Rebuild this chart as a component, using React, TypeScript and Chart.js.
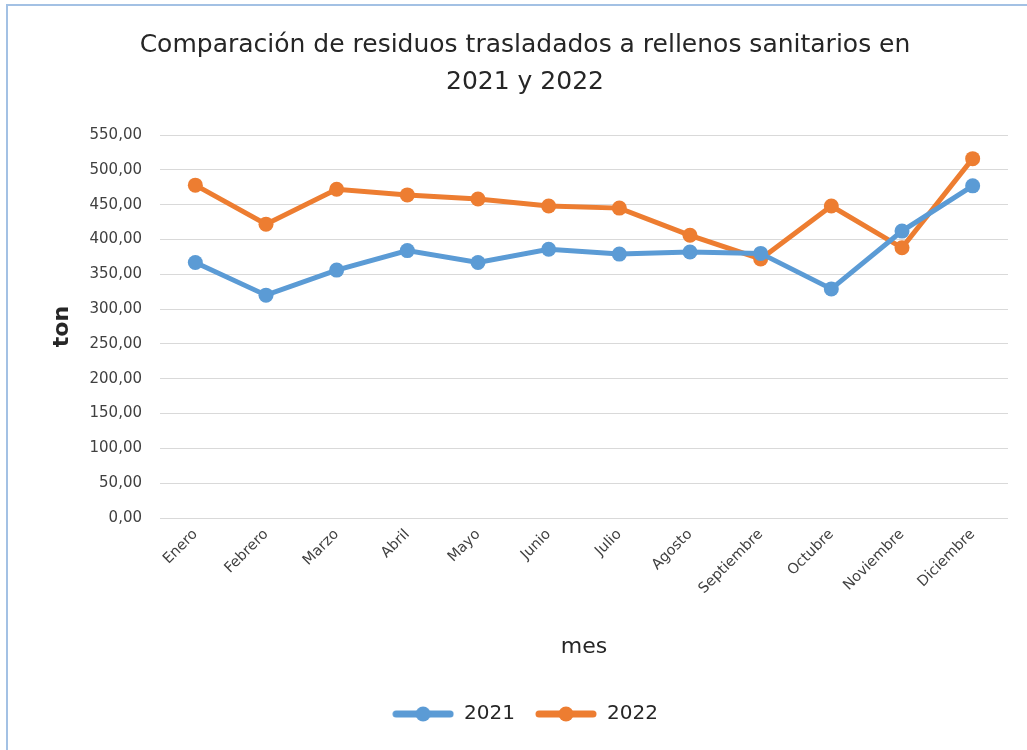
import React, { useEffect, useRef } from "react";
import { Chart, registerables } from "chart.js";

Chart.register(...registerables);

const months = ["Enero", "Febrero", "Marzo", "Abril", "Mayo", "Junio", "Julio", "Agosto", "Septiembre", "Octubre", "Noviembre", "Diciembre"];
const values2021 = [367, 320, 356, 384, 367, 386, 379, 382, 380, 329, 412, 477];
const values2022 = [478, 422, 472, 464, 458, 448, 445, 406, 372, 448, 388, 516];
const seriesNames = ["2021", "2022"];
const seriesColors = ["#5B9BD5", "#ED7D31"];
const titleLines = ["Comparación de residuos trasladados a rellenos sanitarios en", "2021 y 2022"];
const yAxisTitle = "ton";
const xAxisTitle = "mes";

const FONT = "'DejaVu Sans', sans-serif";

function legendImage(color: string): HTMLCanvasElement {
  const c = document.createElement("canvas");
  c.width = 62;
  c.height = 20;
  const ctx = c.getContext("2d")!;
  ctx.strokeStyle = color;
  ctx.fillStyle = color;
  ctx.lineWidth = 7;
  ctx.lineCap = "round";
  ctx.beginPath();
  ctx.moveTo(4, 10);
  ctx.lineTo(58, 10);
  ctx.stroke();
  ctx.beginPath();
  ctx.arc(31, 10, 7.5, 0, Math.PI * 2);
  ctx.fill();
  return c;
}

export default function App() {
  const ref = useRef<HTMLCanvasElement | null>(null);

  useEffect(() => {
    if (!ref.current) return;
    const images = seriesColors.map(legendImage);
    const chart = new Chart(ref.current, {
      type: "line",
      data: {
        labels: months,
        datasets: [values2021, values2022].map((vals, i) => ({
          label: seriesNames[i],
          data: vals,
          borderColor: seriesColors[i],
          backgroundColor: seriesColors[i],
          pointBackgroundColor: seriesColors[i],
          pointBorderColor: seriesColors[i],
          borderWidth: 5,
          pointRadius: 7.5,
          pointBorderWidth: 0,
          tension: 0,
          fill: false,
        })),
      },
      options: {
        responsive: false,
        animation: false,
        layout: { padding: { left: 42, right: 19, top: 0, bottom: 16 } },
        plugins: {
          title: {
            display: true,
            text: titleLines,
            color: "#262626",
            font: { family: FONT, size: 25, weight: "normal", lineHeight: 1.48 },
            padding: { top: 26.5, bottom: 34.5 },
          },
          legend: {
            position: "bottom",
            labels: {
              usePointStyle: true,
              pointStyleWidth: 62,
              padding: 20,
              color: "#262626",
              font: { family: FONT, size: 20 },
              generateLabels: (ch: any) =>
                ch.data.datasets.map((ds: any, i: number) => ({
                  text: ds.label,
                  fillStyle: seriesColors[i],
                  strokeStyle: seriesColors[i],
                  lineWidth: 0,
                  pointStyle: images[i],
                  hidden: false,
                  datasetIndex: i,
                  fontColor: "#262626",
                })),
            },
          },
          tooltip: { enabled: false },
        },
        scales: {
          x: {
            offset: true,
            grid: { display: false, drawTicks: false },
            border: { display: false },
            ticks: {
              autoSkip: false,
              minRotation: 45,
              maxRotation: 45,
              padding: 8,
              color: "#404040",
              font: { family: FONT, size: 14.5 },
            },
            title: {
              display: true,
              text: xAxisTitle,
              color: "#262626",
              font: { family: FONT, size: 22 },
              padding: { top: 0, bottom: 23.8 },
            },
            afterFit: (scale: any) => {
              scale.height = 166;
            },
          },
          y: {
            min: 0,
            max: 550,
            grid: { color: "#d9d9d9", lineWidth: 1, drawTicks: false },
            border: { display: false },
            ticks: {
              stepSize: 50,
              padding: 18,
              color: "#404040",
              font: { family: FONT, size: 15 },
              callback: (v: any) => Number(v).toFixed(2).replace(".", ","),
            },
            title: {
              display: true,
              text: yAxisTitle,
              color: "#262626",
              font: { family: FONT, size: 22, weight: "bold" },
              padding: { top: 7, bottom: 0 },
            },
            afterFit: (scale: any) => {
              scale.width = 118;
            },
          },
        },
      },
    });
    return () => chart.destroy();
  }, []);

  return (
    <div style={{ position: "absolute", left: 0, top: 0, width: 1027, height: 750, background: "#fff", overflow: "hidden" }}>
      <div
        style={{
          position: "absolute",
          left: 6,
          top: 4,
          width: 1040,
          height: 760,
          borderTop: "2px solid #a3c1e4",
          borderLeft: "2px solid #a3c1e4",
        }}
      />
      <canvas ref={ref} width={1027} height={750} style={{ position: "absolute", left: 0, top: 0, display: "block" }} />
    </div>
  );
}
